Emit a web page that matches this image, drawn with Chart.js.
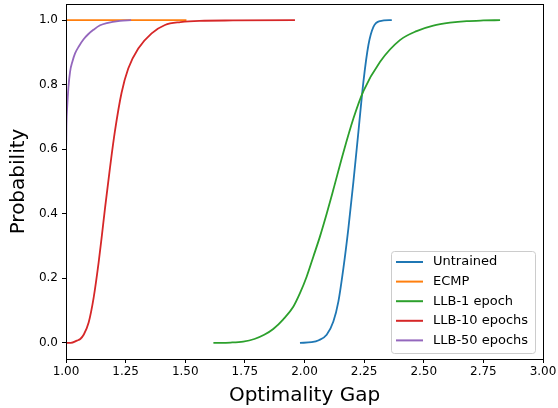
<!DOCTYPE html>
<html>
<head>
<meta charset="utf-8">
<script src="https://cdn.jsdelivr.net/npm/chart.js@4"></script>
<style>
  html, body { margin: 0; padding: 0; background: #fff; }
  #wrap { width: 558px; height: 408px; }
</style>
</head>
<body>
<div id="wrap"><canvas id="cdfChart" width="558" height="408"></canvas></div>
<script>
// values (x = optimality gap, y = cumulative probability)
const seriesNames = ["Untrained", "ECMP", "LLB-1 epoch", "LLB-10 epochs", "LLB-50 epochs"];
const seriesColors = ["#1f77b4", "#ff7f0e", "#2ca02c", "#d62728", "#9467bd"];

const untrainedX = [1.981, 2.03, 2.06, 2.093, 2.121, 2.142, 2.163, 2.184, 2.205, 2.226, 2.247, 2.268, 2.289, 2.317, 2.366];
const untrainedY = [0.0, 0.002, 0.008, 0.025, 0.066, 0.128, 0.231, 0.355, 0.499, 0.654, 0.809, 0.923, 0.979, 0.997, 1.0];

const ecmpX = [1.0, 1.0, 1.505];
const ecmpY = [0.0, 1.0, 1.0];

const llb1X = [1.618, 1.69, 1.743, 1.79, 1.831, 1.869, 1.911, 1.953, 1.981, 2.009, 2.037, 2.065, 2.093, 2.121, 2.163, 2.205, 2.247, 2.317, 2.400, 2.470, 2.540, 2.610, 2.680, 2.750, 2.820];
const llb1Y = [0.0, 0.001, 0.004, 0.012, 0.025, 0.043, 0.073, 0.112, 0.154, 0.205, 0.267, 0.33, 0.40, 0.475, 0.59, 0.695, 0.78, 0.871, 0.938, 0.966, 0.983, 0.992, 0.997, 0.999, 1.0];

const llb10X = [1.0, 1.02, 1.046, 1.06, 1.074, 1.095, 1.116, 1.137, 1.150, 1.164, 1.184, 1.205, 1.233, 1.261, 1.303, 1.359, 1.415, 1.48, 1.56, 1.70, 1.96];
const llb10Y = [0.0, 0.0, 0.007, 0.012, 0.025, 0.063, 0.14, 0.25, 0.33, 0.42, 0.54, 0.655, 0.775, 0.850, 0.912, 0.959, 0.985, 0.994, 0.998, 0.999, 1.0];

const llb50X = [1.0, 1.0, 1.002, 1.005, 1.01, 1.017, 1.027, 1.038, 1.055, 1.073, 1.094, 1.115, 1.143, 1.171, 1.226, 1.273];
const llb50Y = [0.0, 0.58, 0.68, 0.73, 0.79, 0.84, 0.872, 0.897, 0.92, 0.94, 0.957, 0.97, 0.984, 0.991, 0.998, 1.0];

const xTicks = [1.0, 1.25, 1.5, 1.75, 2.0, 2.25, 2.5, 2.75, 3.0];
const yTicks = [0.0, 0.2, 0.4, 0.6, 0.8, 1.0];

const allX = [untrainedX, ecmpX, llb1X, llb10X, llb50X];
const allY = [untrainedY, ecmpY, llb1Y, llb10Y, llb50Y];

const FONT = "'DejaVu Sans', sans-serif";

function toPoints(xs, ys) {
  return xs.map((x, i) => ({ x: x, y: ys[i] }));
}

const datasets = seriesNames.map((name, i) => ({
  label: name,
  data: toPoints(allX[i], allY[i]),
  borderColor: seriesColors[i],
  backgroundColor: seriesColors[i],
  borderWidth: 1.8,
  pointRadius: 0,
  fill: false,
  cubicInterpolationMode: "monotone",
  order: seriesNames.length - i, // later series drawn on top, like matplotlib
}));

// box around the plot + legend in the lower right corner
const framePlugin = {
  id: "frame",
  afterDraw(chart) {
    const ctx = chart.ctx;
    const a = chart.chartArea;
    ctx.save();
    ctx.strokeStyle = "#000";
    ctx.lineWidth = 1;
    ctx.strokeRect(Math.round(a.left) + 0.5, Math.round(a.top) + 0.5,
      Math.round(a.right - a.left), Math.round(a.bottom - a.top));

    // legend
    const boxW = 144, boxH = 102;
    const bx = a.right - 8 - boxW, by = a.bottom - 6 - boxH;
    ctx.fillStyle = "rgba(255,255,255,0.8)";
    ctx.strokeStyle = "#cccccc";
    ctx.beginPath();
    ctx.roundRect(bx + 0.5, by + 0.5, boxW, boxH, 3);
    ctx.fill();
    ctx.stroke();
    ctx.font = "13px " + FONT;
    ctx.textBaseline = "middle";
    seriesNames.forEach((name, i) => {
      const ry = by + 11 + i * 19.6;
      ctx.strokeStyle = seriesColors[i];
      ctx.lineWidth = 2;
      ctx.beginPath();
      ctx.moveTo(bx + 5, ry);
      ctx.lineTo(bx + 32, ry);
      ctx.stroke();
      ctx.fillStyle = "#000";
      ctx.fillText(name, bx + 42, ry);
    });
    ctx.restore();
  },
};

const ctx = document.getElementById("cdfChart").getContext("2d");
const chart = new Chart(ctx, {
  type: "line",
  data: { datasets: datasets },
  options: {
    responsive: false,
    animation: false,
    layout: { padding: { top: 4, right: 15, left: 0, bottom: 0 } },
    plugins: {
      legend: { display: false },
      tooltip: { enabled: false },
    },
    scales: {
      x: {
        type: "linear",
        min: 1.0,
        max: 3.0,
        afterBuildTicks: (scale) => { scale.ticks = xTicks.map((v) => ({ value: v })); },
        afterFit: (scale) => {
          scale.height = 49;
          scale.paddingLeft = 0;
          scale.paddingRight = 0;
        },
        ticks: {
          color: "#000",
          font: { family: FONT, size: 12 },
          padding: 2,
          maxRotation: 0,
          callback: (v) => Number(v).toFixed(2),
        },
        grid: { drawOnChartArea: false, drawTicks: true, tickLength: 4, tickColor: "#000" },
        border: { display: true, color: "#000" },
        title: {
          display: true,
          text: "Optimality Gap",
          color: "#000",
          font: { family: FONT, size: 20 },
          padding: { top: 0, bottom: 0 },
        },
      },
      y: {
        type: "linear",
        min: -0.05,
        max: 1.05,
        afterBuildTicks: (scale) => { scale.ticks = yTicks.map((v) => ({ value: v })); },
        afterFit: (scale) => {
          scale.width = 66;
          scale.paddingTop = 0;
          scale.paddingBottom = 0;
        },
        ticks: {
          color: "#000",
          font: { family: FONT, size: 12 },
          padding: 4,
          callback: (v) => Number(v).toFixed(1),
        },
        grid: { drawOnChartArea: false, drawTicks: true, tickLength: 4, tickColor: "#000" },
        border: { display: true, color: "#000" },
        title: {
          display: true,
          text: "Probability",
          color: "#000",
          font: { family: FONT, size: 20 },
          padding: { top: 7, bottom: 0 },
        },
      },
    },
  },
  plugins: [framePlugin],
});
</script>
</body>
</html>
